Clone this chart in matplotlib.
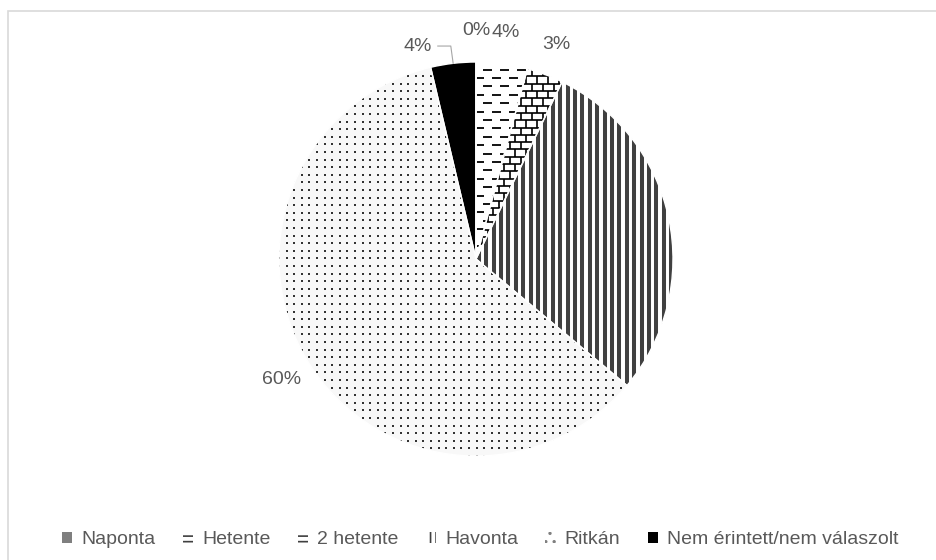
import numpy as np
import matplotlib.pyplot as plt
from matplotlib.collections import LineCollection
from matplotlib.patches import Patch, Rectangle

plt.rcParams['font.family'] = ['Liberation Sans', 'DejaVu Sans']
plt.rcParams['hatch.linewidth'] = 1.2

categories = ["Naponta", "Hetente", "2 hetente", "Havonta", "Ritkán",
              "Nem érintett/nem válaszolt"]
shares = [0.0, 4.2, 3.0, 28.9, 60.2, 3.7]
hidden_labels = ["Havonta"]

TXT = '#595959'
W, H = 936, 560
cx, cy, R = 476, 259, 197  # pie centre / radius in pixels

fig = plt.figure(figsize=(W / 100, H / 100), dpi=100)
ax = fig.add_axes([(cx - R) / W, (H - cy - R) / H, 2 * R / W, 2 * R / H])

# chart border (right/bottom edges fall outside the image)
fig.patches.append(Rectangle((8 / W, -0.05), 1.1, 1.05 - 11 / H, transform=fig.transFigure,
                             fill=False, edgecolor='#d9d9d9', lw=1.2))

fills = ['#7f7f7f', 'white', 'white', 'white', '#f8f8f8', 'black']
wedges, _ = ax.pie(shares, startangle=90, counterclock=False, radius=1,
                   colors=fills, wedgeprops=dict(linewidth=0))

u = 1.0 / R  # one pixel in data units


def clip(coll, wedge):
    coll.set_clip_path(wedge)
    coll.set_zorder(2)
    ax.add_collection(coll)


# Hetente: staggered horizontal dashes
segs = []
for k, y in enumerate(np.arange(-1, 1, 8.4 * u)):
    off = (k % 2) * 8.5 * u
    for x in np.arange(-1 - off, 1, 17 * u):
        segs.append([(x, y), (x + 9 * u, y)])
clip(LineCollection(segs, colors='black', linewidths=1.3), wedges[1])

# 2 hetente: brick
segs = []
rows = np.arange(-1, 1, 7.3 * u)
for k, y in enumerate(rows):
    segs.append([(-1, y), (1, y)])
    off = (k % 2) * 5.5 * u
    for x in np.arange(-1 + off, 1, 11 * u):
        segs.append([(x, y), (x, y + 7.3 * u)])
clip(LineCollection(segs, colors='black', linewidths=1.2), wedges[2])

# Havonta: vertical stripes
segs = [[(x, -1), (x, 1)] for x in np.arange(-1, 1, 7.4 * u)]
clip(LineCollection(segs, colors='#404040', linewidths=2.9), wedges[3])

# Ritkán: dots
gx, gy = np.meshgrid(np.arange(-1, 1, 7.6 * u), np.arange(-1, 1, 7.6 * u))
dots = ax.scatter(gx.ravel(), gy.ravel(), s=2.6, marker='s', color='#333333',
                  linewidths=0, zorder=2)
dots.set_clip_path(wedges[4])

# white separators on top
ax.pie(shares, startangle=90, counterclock=False, radius=1,
       wedgeprops=dict(fill=False, edgecolor='white', linewidth=1.0, zorder=3))

ax.set_xlim(-1, 1)
ax.set_ylim(-1, 1)
ax.axis('off')

# percentage labels
cum = np.cumsum([0] + shares[:-1])
total = sum(shares)
for name, s, c0 in zip(categories, shares, cum):
    if name in hidden_labels:
        continue
    ang = np.deg2rad(90 - 360 * (c0 + s / 2) / total)
    lbl = f"{round(s):.0f}%"
    if name == categories[-1]:
        # moved label with leader line
        lx, ly = -0.294, 1.081
        ex, ey = np.cos(ang), np.sin(ang)
        ax.plot([lx + 0.1, ex - 0.012, ex], [ly, ly, ey], color='#a6a6a6', lw=0.8,
                clip_on=False, zorder=4)
        ax.text(lx, ly, lbl, ha='center', va='center', fontsize=14, color=TXT)
    else:
        r = 1.16
        ax.text(r * np.cos(ang), r * np.sin(ang), lbl, ha='center', va='center',
                fontsize=14, color=TXT)

handles = [
    Patch(facecolor='#7f7f7f', edgecolor='#7f7f7f', lw=0),
    Patch(facecolor='white', edgecolor='#404040', lw=0, hatch='---'),
    Patch(facecolor='white', edgecolor='#404040', lw=0, hatch='---'),
    Patch(facecolor='white', edgecolor='#404040', lw=0, hatch='|||'),
    Patch(facecolor='white', edgecolor='#808080', lw=0, hatch='..'),
    Patch(facecolor='black', edgecolor='black', lw=0),
]
fig.legend(handles, categories, loc='center', bbox_to_anchor=(0.513, 1 - 540 / H),
           ncol=6, frameon=False, fontsize=14, handlelength=0.55, handleheight=0.55,
           handletextpad=0.45, columnspacing=1.4, labelcolor=TXT)

fig.savefig('out.png', dpi=100, facecolor='white')
